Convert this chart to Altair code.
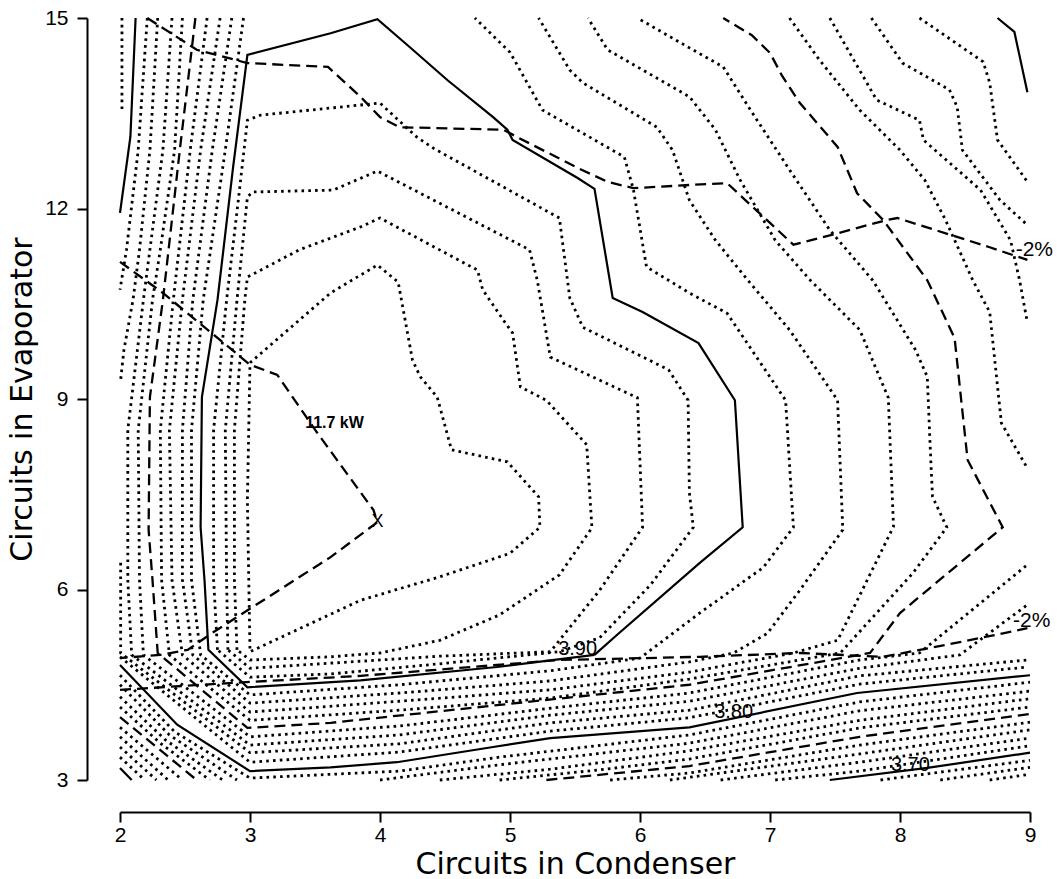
import altair as alt
import pandas as pd

# ---------------- axis ticks ----------------
X_TICKS = [2, 3, 4, 5, 6, 7, 8, 9]
Y_TICKS = [3, 6, 9, 12, 15]

# ---------------- COP contours: (circuits in condenser, circuits in evaporator) ----------------
# solid every 0.10, dashed at 0.05, dotted every 0.01
COP_394 = [(3.00,9.57),(3.62,10.67),(3.98,11.11),(4.14,10.84),(4.25,9.61),(4.31,9.35),(4.44,9.03),(4.55,8.20),(4.98,8.01),(5.22,7.46),(5.23,6.98),(5.00,6.57),(4.46,6.20),(3.85,5.83),(3.00,5.02),(2.98,7.41),(3.00,9.57)]
COP_393 = [(2.90,5.05),(2.88,6.15),(2.88,8.51),(2.96,10.56),(2.98,10.92),(3.38,11.35),(3.85,11.71),(4.00,11.85),(4.75,11.03),(4.79,10.72),(4.95,10.24),(5.02,10.04),(5.08,9.19),(5.28,8.98),(5.59,8.28),(5.63,6.97),(5.38,6.23),(4.92,5.60),(4.46,5.20),(4.00,5.00),(3.62,4.94),(3.00,4.89),(2.90,5.05)]
COP_392 = [(2.83,5.05),(2.82,6.15),(2.81,8.51),(2.90,10.56),(2.98,12.18),(3.02,12.26),(3.64,12.29),(3.98,12.59),(5.15,11.35),(5.21,10.87),(5.31,9.66),(5.98,9.02),(6.02,6.98),(5.69,5.99),(5.31,5.02),(4.46,4.95),(3.62,4.84),(3.00,4.76),(2.83,5.05)]
COP_391 = [(2.75,5.05),(2.72,6.15),(2.72,8.51),(2.82,10.56),(2.91,12.13),(2.98,13.39),(3.08,13.47),(3.85,13.63),(4.00,13.66),(4.28,13.13),(4.41,12.95),(5.38,11.85),(5.46,10.59),(5.56,10.13),(6.22,9.46),(6.37,8.98),(6.38,7.52),(6.41,6.98),(6.08,6.07),(5.69,5.24),(5.38,5.02),(4.46,4.83),(3.62,4.67),(3.00,4.62),(2.75,5.05)]
COP_390 = [(5.65,4.97),(4.90,4.78),(3.85,4.57),(2.98,4.46),(2.68,5.05),(2.65,6.15),(2.62,6.98),(2.63,9.03),(2.75,10.56),(2.87,12.65),(2.98,14.42),(3.62,14.76),(3.98,14.98),(4.23,14.54),(4.52,14.02),(4.87,13.44),(4.98,13.24),(5.02,13.08),(5.52,12.48),(5.65,12.31),(5.79,10.59),(6.02,10.37),(6.45,9.88),(6.73,8.98),(6.79,6.98),(6.46,6.42),(5.82,5.28),(5.65,4.97)]
COP_389 = [(2.95,15.0),(2.81,12.92),(2.64,10.56),(2.55,8.51),(2.55,6.15),(2.62,4.97),(3.00,4.34),(4.15,4.50),(5.31,4.72),(6.00,4.92),(6.46,5.63),(6.95,6.35),(7.18,6.98),(7.12,8.98),(6.67,10.35),(6.38,10.67),(6.05,11.08),(5.95,12.29),(5.88,12.81),(5.25,13.55),(5.00,14.46),(4.73,15.0)]
COP_388 = [(2.86,15.0),(2.71,12.92),(2.56,10.56),(2.48,8.51),(2.48,6.15),(2.56,4.97),(3.00,4.21),(4.15,4.37),(5.31,4.56),(6.38,4.86),(6.72,5.00),(6.98,5.31),(7.23,5.99),(7.56,6.94),(7.52,8.98),(7.15,10.09),(6.83,10.87),(6.58,11.50),(6.38,12.13),(6.25,12.92),(6.13,13.28),(5.56,13.98),(5.46,14.18),(5.22,15.0)]
COP_387 = [(2.77,15.0),(2.62,12.92),(2.48,10.56),(2.38,8.51),(2.40,6.15),(2.48,4.97),(3.00,4.07),(4.15,4.24),(5.31,4.42),(6.38,4.70),(7.18,5.00),(7.52,5.20),(7.95,6.99),(7.91,9.02),(7.69,10.09),(7.31,10.87),(7.04,11.50),(6.77,12.45),(6.58,13.24),(6.38,13.76),(5.75,14.50),(5.60,15.0)]
COP_386 = [(2.67,15.0),(2.54,12.92),(2.41,10.56),(2.31,8.51),(2.32,6.15),(2.38,4.97),(3.00,3.94),(4.15,4.10),(5.31,4.29),(6.38,4.59),(7.54,5.00),(8.10,6.26),(8.36,6.98),(8.25,7.46),(8.23,8.35),(8.21,9.35),(8.12,9.77),(7.79,10.87),(7.46,11.66),(7.15,12.61),(6.85,13.55),(6.64,14.23),(6.38,14.53),(5.98,15.0)]
COP_385 = [(2.58,15.0),(2.46,12.92),(2.33,10.56),(2.23,9.03),(2.22,6.94),(2.25,6.15),(2.29,5.00),(2.98,3.82),(3.62,3.90),(6.38,4.50),(7.77,5.00),(8.00,5.63),(8.79,6.98),(8.52,8.04),(8.42,9.96),(8.21,10.87),(7.87,11.82),(7.67,12.24),(7.52,12.97),(7.23,13.66),(7.09,14.10),(7.00,14.45),(6.86,14.73),(6.64,15.0)]
COP_384 = [(2.48,15.0),(2.42,12.92),(2.31,11.35),(2.25,10.56),(2.14,8.51),(2.15,6.15),(2.18,4.97),(3.00,3.68),(4.15,3.85),(5.31,4.13),(6.38,4.37),(7.69,4.89),(8.15,5.00),(8.46,5.52),(8.98,6.39)]
COP_384_UP = [(7.15,15.0),(7.38,14.34),(7.69,13.55),(8.00,12.92),(8.19,12.45),(8.35,11.82),(8.56,10.87),(8.69,10.37),(8.78,8.62),(8.98,7.91)]
COP_383 = [(2.40,15.0),(2.33,12.92),(2.23,11.35),(2.18,10.56),(2.06,8.51),(2.06,6.15),(2.09,4.97),(3.00,3.55),(4.15,3.71),(5.31,4.02),(6.38,4.24),(7.69,4.76),(8.46,4.97),(8.98,5.76)]
COP_383_UP = [(7.46,15.0),(7.82,13.71),(8.15,13.39),(8.18,13.08),(8.62,12.29),(8.85,11.50),(8.92,10.87),(8.98,10.20)]
COP_382 = [(2.29,15.0),(2.23,12.92),(2.15,11.35),(2.10,10.56),(2.03,9.77),(2.005,9.30)]
COP_382_LOW = [(2.005,6.42),(2.005,5.00),(3.00,3.43),(4.15,3.57),(5.31,3.90),(6.38,4.10),(7.69,4.64),(8.98,4.89)]
COP_382_UP = [(7.78,15.0),(8.02,14.29),(8.38,13.87),(8.44,13.60),(8.48,12.92),(8.77,12.13),(8.98,11.74)]
COP_381 = [(2.21,15.0),(2.14,12.92),(2.05,11.35),(2.00,10.72)]
COP_381_LOW = [(2.00,4.94),(3.00,3.28),(4.15,3.44),(5.31,3.77),(6.38,3.98),(7.69,4.51),(8.98,4.78)]
COP_381_UP = [(8.15,15.0),(8.64,14.31),(8.69,13.98),(8.75,13.08),(8.90,12.65),(8.98,12.42)]
COP_380 = [(2.12,15.0),(2.08,13.13),(2.00,11.93)]
COP_380_LOW = [(2.00,4.81),(2.44,3.87),(3.00,3.14),(3.62,3.20),(4.13,3.28),(4.87,3.52),(5.31,3.66),(6.38,3.83),(7.67,4.37),(9.00,4.65)]
COP_380_UP = [(8.75,15.0),(8.88,14.78),(8.98,13.83)]
COP_379 = [(2.015,15.0),(2.015,13.50)]
COP_379_LOW = [(2.00,4.65),(2.42,3.76),(3.00,3.03),(4.15,3.14),(4.92,3.36),(6.38,3.71),(7.69,4.23),(9.00,4.54)]
COP_378 = [(2.00,4.50),(2.38,3.71),(2.90,3.00)]
COP_378_LOW = [(4.00,3.00),(4.92,3.24),(6.38,3.58),(7.69,4.09),(9.00,4.40)]
COP_377 = [(2.00,4.31),(2.35,3.63),(2.79,3.00)]
COP_377_LOW = [(4.46,3.00),(5.31,3.17),(6.38,3.46),(7.69,3.94),(9.00,4.28)]
COP_376 = [(2.00,4.15),(2.31,3.58),(2.69,3.00)]
COP_376_LOW = [(4.92,3.00),(5.69,3.16),(6.38,3.33),(7.69,3.82),(9.00,4.15)]
COP_375 = [(2.00,3.99),(2.59,3.00)]
COP_375_LOW = [(5.28,3.00),(6.38,3.22),(7.69,3.68),(9.00,4.04)]
COP_374 = [(2.00,3.83),(2.48,3.00)]
COP_374_LOW = [(5.77,3.00),(6.38,3.11),(7.69,3.55),(9.00,3.91)]
COP_373 = [(2.00,3.68),(2.37,3.00)]
COP_373_LOW = [(6.23,3.00),(7.69,3.41),(9.00,3.79)]
COP_372 = [(2.00,3.52),(2.28,3.00)]
COP_372_LOW = [(6.62,3.00),(7.69,3.28),(9.00,3.66)]
COP_371 = [(2.00,3.36),(2.19,3.00)]
COP_371_LOW = [(7.04,3.00),(7.69,3.14),(9.00,3.54)]
COP_370 = [(2.00,3.19),(2.09,3.00)]
COP_370_LOW = [(7.46,3.00),(8.21,3.19),(9.00,3.43)]
COP_369 = [(7.85,3.00),(9.00,3.31)]
COP_368 = [(8.31,3.00),(9.00,3.20)]
COP_367 = [(8.69,3.00),(9.00,3.09)]

# ---------------- capacity contours (dashed) ----------------
CAP_UPPER = [(2.21,15.0),(2.59,14.50),(2.98,14.29),(3.60,14.23),(3.85,13.76),(4.00,13.44),(4.15,13.28),(4.95,13.24),(5.05,13.13),(5.52,12.64),(5.75,12.42),(5.95,12.32),(6.38,12.37),(6.67,12.40),(7.18,11.43),(7.52,11.61),(7.90,11.82),(7.98,11.85),(8.69,11.39),(8.98,11.19)]
CAP_117 = [(2.00,11.16),(2.33,10.67),(3.00,9.54),(3.21,9.38),(3.52,8.46),(3.95,7.25),(3.98,7.06),(3.62,6.51),(2.72,5.33),(2.52,5.05),(2.31,4.97),(2.00,4.92)]
CAP_LOWER = [(2.00,4.42),(2.87,4.53),(3.85,4.64),(5.38,4.89),(6.46,4.94),(7.23,5.00),(7.87,4.94),(8.46,5.17),(8.98,5.39)]

# ---------------- annotations ----------------
CONTOUR_LABEL_TEXT = ["3.90", "3.80", "3.70"]
CONTOUR_LABEL_X = [5.52, 6.72, 8.08]
CONTOUR_LABEL_Y = [5.06, 4.07, 3.24]
PCT_LABEL_TEXT = ["-2%", "-2%"]
PCT_LABEL_X = [8.89, 8.87]
PCT_LABEL_Y = [11.35, 5.50]
KW_LABEL = ["11.7 kW"]
KW_X = [3.65]
KW_Y = [8.62]
OPT_MARK = ["X"]
OPT_X = [3.98]
OPT_Y = [7.07]

SOLID = {"c390": COP_390, "c380": COP_380, "c380l": COP_380_LOW, "c380u": COP_380_UP,
         "c370": COP_370, "c370l": COP_370_LOW}
DASHED = {"c385": COP_385, "c375": COP_375, "c375l": COP_375_LOW,
          "capU": CAP_UPPER, "cap117": CAP_117, "capL": CAP_LOWER}
DOTTED = {"c394": COP_394, "c393": COP_393, "c392": COP_392, "c391": COP_391,
          "c389": COP_389, "c388": COP_388, "c387": COP_387, "c386": COP_386,
          "c384": COP_384, "c384u": COP_384_UP, "c383": COP_383, "c383u": COP_383_UP,
          "c382": COP_382, "c382l": COP_382_LOW, "c382u": COP_382_UP,
          "c381": COP_381, "c381l": COP_381_LOW, "c381u": COP_381_UP,
          "c379": COP_379, "c379l": COP_379_LOW, "c378": COP_378, "c378l": COP_378_LOW,
          "c377": COP_377, "c377l": COP_377_LOW, "c376": COP_376, "c376l": COP_376_LOW,
          "c374": COP_374, "c374l": COP_374_LOW, "c373": COP_373, "c373l": COP_373_LOW,
          "c372": COP_372, "c372l": COP_372_LOW, "c371": COP_371, "c371l": COP_371_LOW,
          "c369": COP_369, "c368": COP_368, "c367": COP_367}

rows = []
for style, group in (("solid", SOLID), ("dashed", DASHED), ("dotted", DOTTED)):
    for name, pts in group.items():
        for i, (x, y) in enumerate(pts):
            rows.append({"line": name, "style": style, "i": i, "x": x, "y": y})
lines_df = pd.DataFrame(rows)

xscale = alt.Scale(domain=[2, 9], nice=False, zero=False)
yscale = alt.Scale(domain=[3, 15], nice=False, zero=False)

common_axis = dict(tickSize=10, tickWidth=2, tickColor="black", domainColor="black",
                   domainWidth=2, labelFontSize=21, labelFont="Liberation Sans",
                   labelColor="black", labelFlush=False, grid=False,
                   titleFontSize=30, titleFont="DejaVu Sans", titleFontWeight="normal",
                   titleColor="black")
x_axis = alt.Axis(values=X_TICKS, format="d", offset=32, labelPadding=2, titlePadding=4, **common_axis)
y_axis = alt.Axis(values=Y_TICKS, format="d", offset=33, labelPadding=9, titlePadding=7, **common_axis)

base = alt.Chart(lines_df).encode(
    x=alt.X("x:Q", scale=xscale, axis=x_axis, title="Circuits in Condenser"),
    y=alt.Y("y:Q", scale=yscale, axis=y_axis, title="Circuits in Evaporator"),
    detail="line:N",
    order="i:Q",
)
solid = base.transform_filter(alt.datum.style == "solid").mark_line(
    color="black", strokeWidth=2.2)
dashed = base.transform_filter(alt.datum.style == "dashed").mark_line(
    color="black", strokeWidth=2.3, strokeDash=[11, 6])
dotted = base.transform_filter(alt.datum.style == "dotted").mark_line(
    color="black", strokeWidth=2.8, strokeDash=[2.6, 4.2])

def text_layer(texts, xs, ys, **kw):
    df = pd.DataFrame({"t": texts, "x": xs, "y": ys})
    return alt.Chart(df).mark_text(color="black", **kw).encode(
        x=alt.X("x:Q", scale=xscale), y=alt.Y("y:Q", scale=yscale), text="t:N")

labels = text_layer(CONTOUR_LABEL_TEXT, CONTOUR_LABEL_X, CONTOUR_LABEL_Y,
                    font="Liberation Sans", fontSize=20, align="center", baseline="middle")
pct = text_layer(PCT_LABEL_TEXT, PCT_LABEL_X, PCT_LABEL_Y,
                 font="Liberation Sans", fontSize=21, align="left", baseline="middle")
kw = text_layer(KW_LABEL, KW_X, KW_Y, font="Liberation Sans", fontSize=16,
                fontWeight="bold", align="center", baseline="middle")
opt = text_layer(OPT_MARK, OPT_X, OPT_Y, font="Liberation Sans", fontSize=18,
                 align="center", baseline="middle")

chart = alt.layer(dotted, dashed, solid, labels, pct, kw, opt).properties(
    width=910, height=762,
    autosize=alt.AutoSizeParams(type="none"),
    padding={"left": 120, "top": 18, "right": 27, "bottom": 99},
    background="white",
).configure_view(stroke=None)

chart.save("out.html", embed_options={"renderer": "svg", "actions": False})
